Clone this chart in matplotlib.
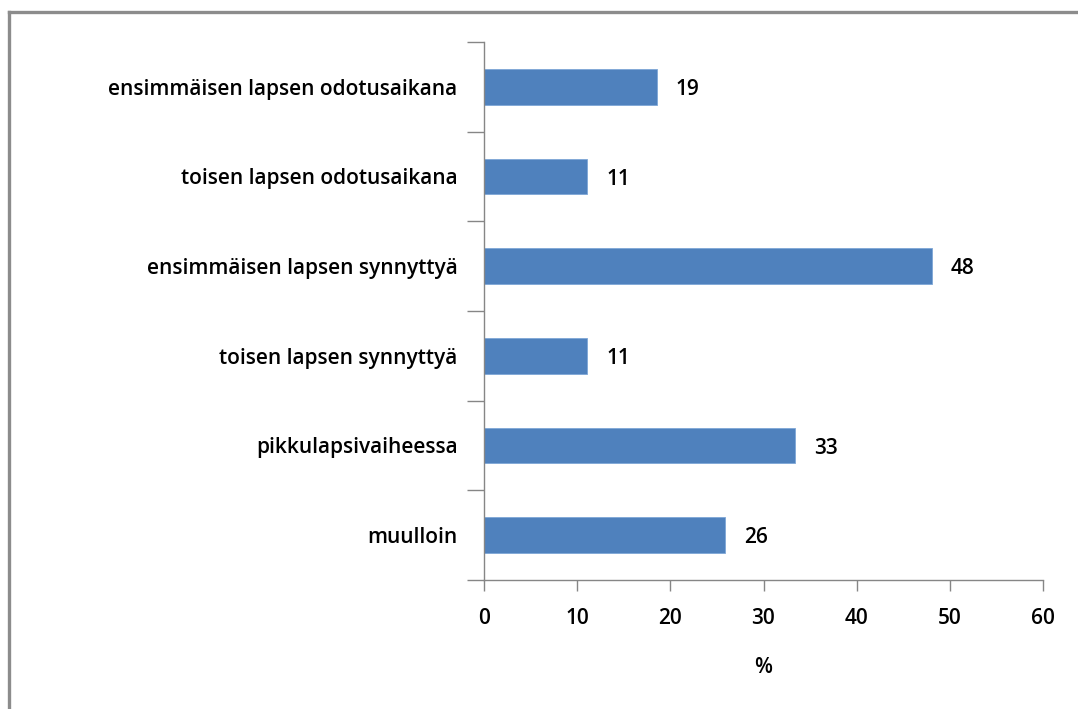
import matplotlib.pyplot as plt
from matplotlib.lines import Line2D
import numpy as np

categories = [
    "ensimmäisen lapsen odotusaikana",
    "toisen lapsen odotusaikana",
    "ensimmäisen lapsen synnyttyä",
    "toisen lapsen synnyttyä",
    "pikkulapsivaiheessa",
    "muulloin",
]
values = [18.6, 11.1, 48.1, 11.1, 33.4, 25.9]
xticks = [0, 10, 20, 30, 40, 50, 60]

plt.rcParams['font.family'] = ['Open Sans', 'DejaVu Sans']
FS = 15
WT = "semibold"

W, H = 1078, 709
fig = plt.figure(figsize=(W / 100, H / 100), dpi=100)
ax = fig.add_axes([484 / W, 1 - 580 / H, (1043 - 484) / W, (580 - 42) / H])

n = len(categories)
pos = np.arange(n)[::-1]
ax.barh(pos, values, height=0.4, color="#4f81bd", edgecolor="#7ea6d6", linewidth=0.6)

for p, v in zip(pos, values):
    ax.text(v + 2.0, p - 0.03, f"{v:.0f}", va="center", ha="left", fontsize=FS, fontweight=WT)

ax.set_xlim(0, 60)
ax.set_ylim(-0.5, n - 0.5)
ax.set_xticks(xticks)
ax.set_xticklabels([str(t) for t in xticks], fontsize=FS, fontweight=WT)
ax.set_yticks(pos)
ax.set_yticklabels(categories, fontsize=FS, fontweight=WT)
ax.set_yticks(np.arange(-0.5, n, 1.0), minor=True)
ax.tick_params(axis="y", which="major", length=0, pad=19)
ax.tick_params(axis="y", which="minor", length=12, color="#868686", width=1)
ax.tick_params(axis="x", length=8, color="#868686", width=1, pad=12)
ax.set_xlabel("%", fontsize=FS, fontweight=WT, labelpad=20)

for s in ["top", "right"]:
    ax.spines[s].set_visible(False)
for s in ["left", "bottom"]:
    ax.spines[s].set_color("#868686")
    ax.spines[s].set_linewidth(1)

# outer frame (top and left edges only, like the screenshot)
fig.add_artist(Line2D([9 / W, 1], [1 - 12 / H, 1 - 12 / H], color="#8c8c8c", linewidth=2.4))
fig.add_artist(Line2D([9 / W, 9 / W], [0, 1 - 12 / H], color="#8c8c8c", linewidth=2.4))

fig.savefig("out.png", dpi=100)
